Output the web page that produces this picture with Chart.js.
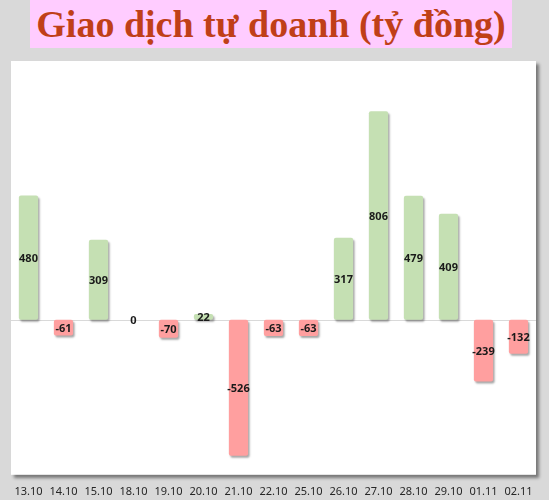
<!DOCTYPE html>
<html>
<head>
<meta charset="utf-8">
<script src="https://cdn.jsdelivr.net/npm/chart.js@4.4.0/dist/chart.umd.min.js"></script>
<style>
  html, body { margin:0; padding:0; background:#d9d9d9; width:549px; height:500px; overflow:hidden; }
  #wrap { position:absolute; left:0; top:0; width:549px; height:511px; }
  #title { position:absolute; left:30px; top:0; width:482px; height:48px; background:#ffccff;
    font-family:"Liberation Serif","DejaVu Serif",serif; font-weight:bold; font-size:38px; color:#c03f18;
    text-align:center; line-height:48px; white-space:nowrap; z-index:2; }
</style>
</head>
<body>
<div id="wrap"><canvas id="c" width="549" height="511"></canvas></div>
<div id="title">Giao dịch tự doanh (tỷ đồng)</div>
<script>
const categories = ["13.10","14.10","15.10","18.10","19.10","20.10","21.10","22.10","25.10","26.10","27.10","28.10","29.10","01.11","02.11"];
const values = [480,-61,309,0,-70,22,-526,-63,-63,317,806,479,409,-239,-132];
const yMin = -600;
const yMax = 1000;

const GREEN = "#c5e0b3";
const RED = "#ff9f9f";

const panelPlugin = {
  id: "panel",
  beforeDraw(chart) {
    const {ctx, chartArea:a} = chart;
    ctx.save();
    ctx.shadowColor = "rgba(0,0,0,0.45)";
    ctx.shadowOffsetX = 3;
    ctx.shadowOffsetY = 3;
    ctx.shadowBlur = 3;
    ctx.fillStyle = "#ffffff";
    ctx.fillRect(a.left, a.top, a.right - a.left, a.bottom - a.top);
    ctx.restore();
    const y0 = chart.scales.y.getPixelForValue(0);
    ctx.save();
    ctx.strokeStyle = "#d9d9d9";
    ctx.lineWidth = 1;
    ctx.beginPath();
    ctx.moveTo(a.left, Math.round(y0) + 0.5);
    ctx.lineTo(a.right, Math.round(y0) + 0.5);
    ctx.stroke();
    ctx.restore();
  },
  beforeDatasetDraw(chart) {
    const ctx = chart.ctx;
    ctx.save();
    ctx.shadowColor = "rgba(0,0,0,0.35)";
    ctx.shadowOffsetX = 1.5;
    ctx.shadowOffsetY = 2;
    ctx.shadowBlur = 2;
  },
  afterDatasetDraw(chart) {
    chart.ctx.restore();
  },
  afterDatasetsDraw(chart) {
    const ctx = chart.ctx;
    const meta = chart.getDatasetMeta(0);
    ctx.save();
    ctx.font = "bold 11px 'Noto Sans', 'Open Sans', sans-serif";
    ctx.fillStyle = "#1a1a1a";
    ctx.textAlign = "center";
    ctx.textBaseline = "middle";
    meta.data.forEach((bar, i) => {
      const p = bar.getProps(["x","y","base"], true);
      ctx.fillText(String(values[i]), p.x, (p.y + p.base) / 2 + 1);
    });
    ctx.restore();
  }
};

new Chart(document.getElementById("c"), {
  type: "bar",
  data: {
    labels: categories,
    datasets: [{
      data: values,
      backgroundColor: values.map(v => v >= 0 ? GREEN : RED),
      borderWidth: 0,
      borderRadius: 2,
      borderSkipped: false,
      categoryPercentage: 1,
      barPercentage: 0.55
    }]
  },
  options: {
    responsive: false,
    animation: false,
    devicePixelRatio: 1,
    layout: { padding: { left: 11, right: 13, top: 61, bottom: 3 } },
    plugins: { legend: { display: false }, title: { display: false }, tooltip: { enabled: false } },
    scales: {
      x: {
        grid: { display: false, drawTicks: false },
        border: { display: false },
        ticks: { color: "#262626", font: { family: "'Noto Sans', 'Open Sans', sans-serif", size: 11 }, padding: 10, maxRotation: 0, autoSkip: false }
      },
      y: {
        display: false,
        min: yMin,
        max: yMax
      }
    }
  },
  plugins: [panelPlugin]
});
</script>
</body>
</html>
